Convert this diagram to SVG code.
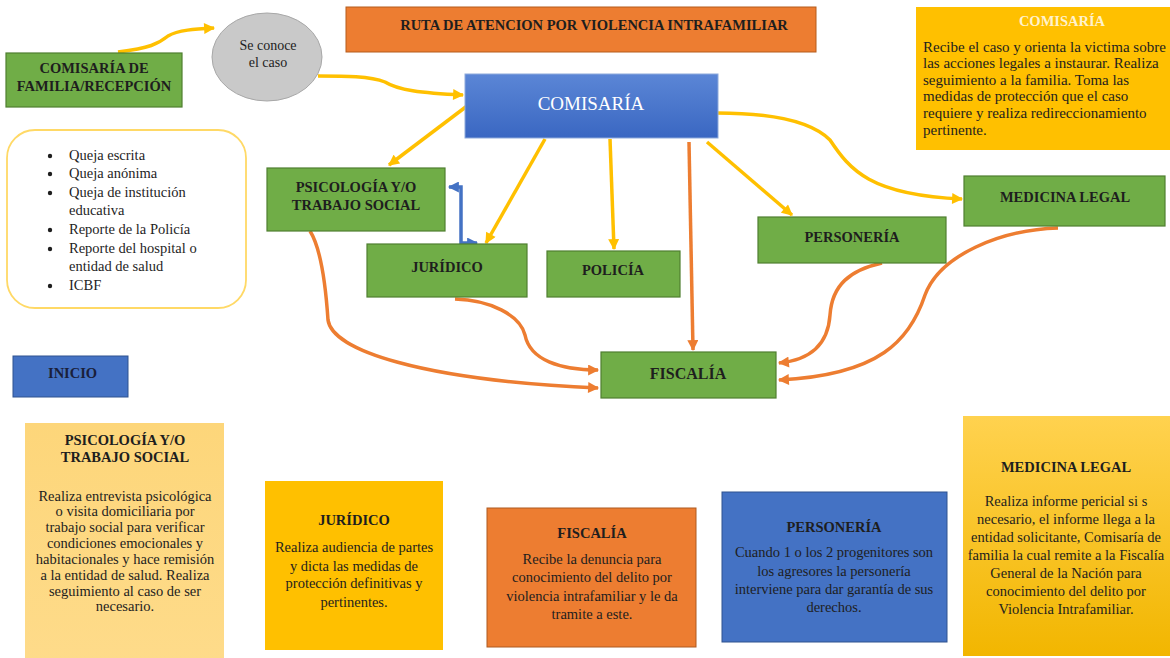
<svg xmlns="http://www.w3.org/2000/svg" width="1170" height="658" viewBox="0 0 1170 658">
<defs>
<linearGradient id="gBlue" x1="0" y1="0" x2="0" y2="1"><stop offset="0" stop-color="#5b86d6"/><stop offset="1" stop-color="#3a67c2"/></linearGradient>
<linearGradient id="gGold" x1="0" y1="0" x2="0" y2="1"><stop offset="0" stop-color="#ffd24f"/><stop offset="1" stop-color="#f2b600"/></linearGradient>
<linearGradient id="gLight" x1="0" y1="0" x2="0" y2="1"><stop offset="0" stop-color="#fdd67a"/><stop offset="1" stop-color="#fedb8a"/></linearGradient>
<marker id="aY" viewBox="0 0 10 10" refX="9" refY="5" markerUnits="userSpaceOnUse" markerWidth="12" markerHeight="11" orient="auto"><path d="M0,0 L10,5 L0,10 Z" fill="#ffc000"/></marker>
<marker id="aO" viewBox="0 0 10 10" refX="9" refY="5" markerUnits="userSpaceOnUse" markerWidth="12" markerHeight="11" orient="auto"><path d="M0,0 L10,5 L0,10 Z" fill="#ed7d31"/></marker>
<marker id="aB" viewBox="0 0 10 10" refX="9" refY="5" markerUnits="userSpaceOnUse" markerWidth="12" markerHeight="11" orient="auto-start-reverse"><path d="M0,0 L10,5 L0,10 Z" fill="#4472c4"/></marker>
</defs>
<style>
text{font-family:"Liberation Serif","Times New Roman",serif;font-size:14.5px;fill:#1e1e1e}
.b{font-weight:bold}
.m{text-anchor:middle}
.green{fill:#70ad47;stroke:#4f7f30;stroke-width:1.2}
.cy{fill:none;stroke:#ffc000;stroke-width:3.5;marker-end:url(#aY)}
.co{fill:none;stroke:#ed7d31;stroke-width:3.5;marker-end:url(#aO)}
.cb{fill:none;stroke:#4472c4;stroke-width:3.5;marker-end:url(#aB);marker-start:url(#aB)}
</style>
<rect width="1170" height="658" fill="#ffffff"/>

<g id="title">
<rect x="346" y="7" width="470" height="45" fill="#ed7d31" stroke="#b55d1d" stroke-width="1"/>
<text x="594" y="30" class="b m">RUTA DE ATENCION POR VIOLENCIA INTRAFAMILIAR</text>
</g>

<g id="connectors">
<path class="cy" d="M118,52 C150,48 158,44 168,36 C178,30 195,29 214,28"/>
<path class="cy" d="M318,76 C345,76 370,76 385,82 C398,90 420,93 463,95"/>
<path class="cy" d="M467,106 L389,165"/>
<path class="cy" d="M545,139 L486,243"/>
<path class="cy" d="M610,139 L614,249"/>
<path class="co" d="M689,142 L693,350"/>
<path class="cy" d="M707,142 L792,215"/>
<path class="cy" d="M717,113 C770,113 810,120 830,140 C850,170 870,195 962,199"/>
<path class="cb" d="M449,187 L461,187 L461,243 L477,243"/>
<path class="co" d="M310,231 C322,250 326,290 328,320 C332,350 420,380 598,388"/>
<path class="co" d="M455,299 C490,300 520,315 525,335 C530,360 560,370 598,370"/>
<path class="co" d="M882,263 C850,270 832,285 830,315 C828,345 810,360 779,363"/>
<path class="co" d="M1058,228 C1000,230 940,255 925,295 C910,340 880,375 779,380"/>
</g>

<g id="recepcion">
<rect x="6" y="53" width="176" height="54" class="green"/>
<text x="94" y="73" class="b m">COMISARÍA DE</text>
<text x="94" y="91" class="b m">FAMILIA/RECEPCIÓN</text>
</g>

<g id="conoce">
<ellipse cx="267" cy="57" rx="55" ry="44" fill="#c9c9c9" stroke="#a8a8a8" stroke-width="1"/>
<text x="268" y="50" class="m" style="font-size:14px">Se conoce</text>
<text x="268" y="67" class="m" style="font-size:14px">el caso</text>
</g>

<g id="comisaria">
<rect x="465" y="74" width="253" height="64" fill="url(#gBlue)" stroke="#8eaadb" stroke-width="1"/>
<text x="591" y="110" class="m" style="font-size:19px;fill:#ffffff">COMISARÍA</text>
</g>

<g id="fuentes">
<rect x="7" y="130" width="239" height="178" rx="28" fill="#ffffff" stroke="#ffd966" stroke-width="1.8"/>
<g style="fill:#1e1e1e">
<circle cx="50" cy="156" r="2.2"/><circle cx="50" cy="174" r="2.2"/><circle cx="50" cy="193" r="2.2"/><circle cx="50" cy="230" r="2.2"/><circle cx="50" cy="249" r="2.2"/><circle cx="50" cy="286" r="2.2"/>
</g>
<text x="69" y="160">Queja escrita</text>
<text x="69" y="178">Queja anónima</text>
<text x="69" y="197">Queja de institución</text>
<text x="69" y="215">educativa</text>
<text x="69" y="234">Reporte de la Policía</text>
<text x="69" y="253">Reporte del hospital o</text>
<text x="69" y="271">entidad de salud</text>
<text x="69" y="290">ICBF</text>
</g>

<g id="comisaria-info">
<rect x="916" y="7" width="254" height="143" fill="#ffc000"/>
<text x="1062" y="26" class="b m" style="fill:#fff2cc">COMISARÍA</text>
<text x="923" y="52" style="font-size:15px">Recibe el caso y orienta la victima sobre</text>
<text x="923" y="68" style="font-size:15px">las acciones legales a instaurar. Realiza</text>
<text x="923" y="85" style="font-size:15px">seguimiento a la familia. Toma las</text>
<text x="923" y="101" style="font-size:15px">medidas de protección que el caso</text>
<text x="923" y="118" style="font-size:15px">requiere y realiza redireccionamiento</text>
<text x="923" y="135" style="font-size:15px">pertinente.</text>
</g>

<g id="psicologia">
<rect x="267" y="168" width="178" height="63" class="green"/>
<text x="356" y="192" class="b m">PSICOLOGÍA Y/O</text>
<text x="356" y="210" class="b m">TRABAJO SOCIAL</text>
</g>

<g id="juridico">
<rect x="367" y="244" width="160" height="53" class="green"/>
<text x="447" y="272" class="b m">JURÍDICO</text>
</g>

<g id="policia">
<rect x="547" y="251" width="133" height="46" class="green"/>
<text x="613" y="275" class="b m">POLICÍA</text>
</g>

<g id="fiscalia">
<rect x="601" y="352" width="175" height="46" class="green"/>
<text x="688" y="379" class="b m" style="font-size:16px">FISCALÍA</text>
</g>

<g id="personeria">
<rect x="758" y="217" width="188" height="46" class="green"/>
<text x="852" y="242" class="b m">PERSONERÍA</text>
</g>

<g id="medicina">
<rect x="964" y="176" width="201" height="50" class="green"/>
<text x="1065" y="202" class="b m">MEDICINA LEGAL</text>
</g>

<g id="inicio">
<rect x="13" y="356" width="115" height="41" fill="#4472c4" stroke="#2f528f" stroke-width="1"/>
<text x="48" y="378" class="b" style="fill:#1a1f3a">INICIO</text>
</g>

<g id="psicologia-info">
<rect x="25" y="423" width="199" height="240" fill="url(#gLight)"/>
<text x="125" y="445" class="b m">PSICOLOGÍA Y/O</text>
<text x="125" y="462" class="b m">TRABAJO SOCIAL</text>
<text x="125" y="501" class="m">Realiza entrevista psicológica</text>
<text x="125" y="516" class="m">o visita domiciliaria por</text>
<text x="125" y="532" class="m">trabajo social para verificar</text>
<text x="125" y="548" class="m">condiciones emocionales y</text>
<text x="125" y="564" class="m">habitacionales y hace remisión</text>
<text x="125" y="580" class="m">a la entidad de salud. Realiza</text>
<text x="125" y="596" class="m">seguimiento al caso de ser</text>
<text x="125" y="611" class="m">necesario.</text>
</g>

<g id="juridico-info">
<rect x="265" y="481" width="178" height="169" fill="#ffc000"/>
<text x="354" y="525" class="b m">JURÍDICO</text>
<text x="354" y="552" class="m">Realiza audiencia de partes</text>
<text x="354" y="571" class="m">y dicta las medidas de</text>
<text x="354" y="588" class="m">protección definitivas y</text>
<text x="354" y="607" class="m">pertinentes.</text>
</g>

<g id="fiscalia-info">
<rect x="487" y="508" width="209" height="139" fill="#ed7d31" stroke="#ae5a21" stroke-width="1"/>
<text x="592" y="538" class="b m">FISCALÍA</text>
<text x="592" y="564" class="m">Recibe la denuncia para</text>
<text x="592" y="582" class="m">conocimiento del delito por</text>
<text x="592" y="601" class="m">violencia intrafamiliar y le da</text>
<text x="592" y="619" class="m">tramite a este.</text>
</g>

<g id="personeria-info">
<rect x="722" y="492" width="225" height="150" fill="#4472c4" stroke="#2f528f" stroke-width="1"/>
<text x="834" y="532" class="b m">PERSONERÍA</text>
<text x="834" y="557" class="m">Cuando 1 o los 2 progenitores son</text>
<text x="834" y="576" class="m">los agresores la personería</text>
<text x="834" y="594" class="m">interviene para dar garantía de sus</text>
<text x="834" y="612" class="m">derechos.</text>
</g>

<g id="medicina-info">
<rect x="963" y="416" width="207" height="240" fill="url(#gGold)"/>
<text x="1066" y="472" class="b m">MEDICINA LEGAL</text>
<text x="1066" y="506" class="m">Realiza informe pericial si s</text>
<text x="1066" y="524" class="m">necesario, el informe llega a la</text>
<text x="1066" y="542" class="m">entidad solicitante, Comisaría de</text>
<text x="1066" y="560" class="m">familia la cual remite a la Fiscalía</text>
<text x="1066" y="578" class="m">General de la Nación para</text>
<text x="1066" y="596" class="m">conocimiento del delito por</text>
<text x="1066" y="614" class="m">Violencia Intrafamiliar.</text>
</g>
</svg>
